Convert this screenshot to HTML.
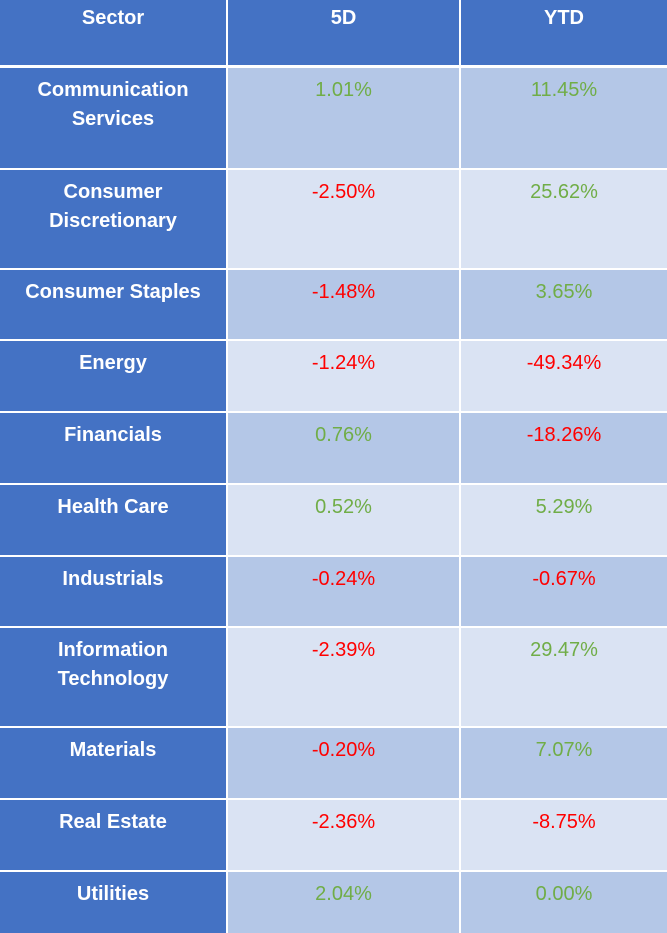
<!DOCTYPE html>
<html><head><meta charset="utf-8"><style>
body{margin:0;width:667px;height:933px;background:#fff;position:relative;overflow:hidden;font-family:"Liberation Sans",Arial,sans-serif}
.c{position:absolute;box-sizing:border-box;text-align:center;font-size:20px;line-height:29px;padding-top:8px}
.h{background:#4472C4;color:#fff;font-weight:bold;padding-top:4px}
.l{background:#4472C4;color:#fff;font-weight:bold}
.a{background:#B4C7E7}.b{background:#DAE3F3}
.g{color:#70AD47}.r{color:#FF0000}
</style></head><body>
<div id="t"></div>
<script>
const sectors=["Communication Services","Consumer Discretionary","Consumer Staples","Energy","Financials","Health Care","Industrials","Information Technology","Materials","Real Estate","Utilities"];
const labelsHtml=["Communication<br>Services","Consumer<br>Discretionary","Consumer Staples","Energy","Financials","Health Care","Industrials","Information<br>Technology","Materials","Real Estate","Utilities"];
const fiveD=[1.01,-2.50,-1.48,-1.24,0.76,0.52,-0.24,-2.39,-0.20,-2.36,2.04];
const ytd=[11.45,25.62,3.65,-49.34,-18.26,5.29,-0.67,29.47,7.07,-8.75,0.00];
const tops=[68,170,270,341,413,485,557,628,728,800,872];
const bots=[168,268,339,411,483,555,626,726,798,870,933];
const cols=[[0,226],[228,459],[461,667]];
const t=document.getElementById('t');
function cell(x0,x1,y0,y1,cls,html){
  const d=document.createElement('div');
  d.className='c '+cls;
  d.style.left=x0+'px';d.style.width=(x1-x0)+'px';d.style.top=y0+'px';d.style.height=(y1-y0)+'px';
  d.innerHTML=html;t.appendChild(d);return d;
}
["Sector","5D","YTD"].forEach((h,i)=>{
  const d=cell(cols[i][0],cols[i][1],0,65,'h',h);
  
  
});
sectors.forEach((s,i)=>{
  const bg=i%2===0?'a':'b';
  const key=s.toLowerCase().replace(/ /g,'-');
  const l=cell(cols[0][0],cols[0][1],tops[i],bots[i],'l',labelsHtml[i]);
  
  
  const v1=cell(cols[1][0],cols[1][1],tops[i],bots[i],bg+' '+(fiveD[i]<0?'r':'g'),fiveD[i].toFixed(2)+'%');
  
  
  const v2=cell(cols[2][0],cols[2][1],tops[i],bots[i],bg+' '+(ytd[i]<0?'r':'g'),ytd[i].toFixed(2)+'%');
  
  
});
</script>
</body></html>
